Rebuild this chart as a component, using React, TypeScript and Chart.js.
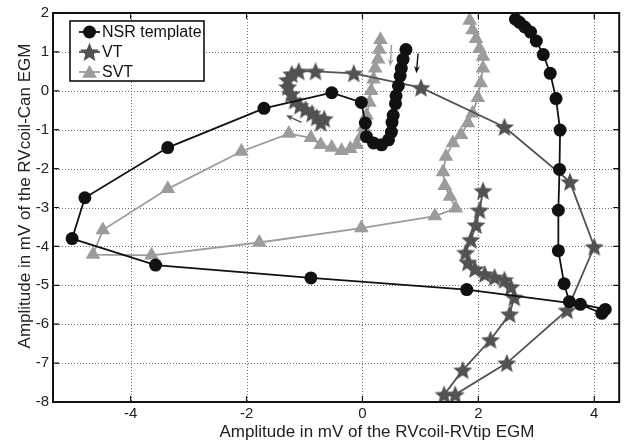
import React, { useEffect, useRef } from 'react';
import { Chart, registerables } from 'chart.js';

Chart.register(...registerables);

// ---------- data ----------
const xTicks = [-4, -2, 0, 2, 4];
const yTicks = [-8, -7, -6, -5, -4, -3, -2, -1, 0, 1, 2];

const seriesNames = ['NSR template', 'VT', 'SVT'];

const nsrX = [0.75, 0.7, 0.67, 0.65, 0.62, 0.58, 0.57, 0.53, 0.51, 0.5, 0.45, 0.33, 0.19, 0.07, 0.05, -0.02, -0.53, -1.7, -3.36, -4.79, -5.01, -3.57, -0.89, 1.8, 3.76, 4.13, 4.19, 3.57, 3.48, 3.38, 3.38, 3.4, 3.41, 3.34, 3.24, 3.12, 3.0, 2.9, 2.8, 2.71, 2.64];
const nsrY = [1.06, 0.81, 0.58, 0.38, 0.13, -0.13, -0.33, -0.63, -0.81, -1.06, -1.26, -1.39, -1.34, -1.18, -0.83, -0.3, -0.05, -0.45, -1.46, -2.75, -3.8, -4.48, -4.81, -5.11, -5.49, -5.72, -5.62, -5.42, -4.96, -4.11, -3.07, -2.02, -1.01, -0.2, 0.45, 0.93, 1.28, 1.51, 1.64, 1.76, 1.84];

const vtX = [-0.66, -0.72, -0.79, -0.87, -0.98, -1.08, -1.17, -1.23, -1.29, -1.29, -1.22, -1.1, -0.81, -0.15, 1.01, 2.45, 3.58, 4.0, 3.53, 2.49, 1.6, 1.41, 1.73, 2.21, 2.54, 2.62, 2.56, 2.45, 2.28, 2.11, 1.94, 1.82, 1.78, 1.87, 1.96, 2.02, 2.08];
const vtY = [-0.72, -0.82, -0.68, -0.58, -0.48, -0.38, -0.25, -0.08, 0.1, 0.28, 0.43, 0.5, 0.5, 0.45, 0.08, -0.93, -2.34, -4.01, -5.64, -7.0, -7.81, -7.81, -7.18, -6.4, -5.74, -5.31, -5.04, -4.86, -4.79, -4.71, -4.58, -4.41, -4.16, -3.83, -3.45, -3.07, -2.57];

const svtX = [0.31, 0.29, 0.27, 0.22, 0.19, 0.15, 0.12, 0.07, 0.02, -0.03, -0.1, -0.21, -0.36, -0.53, -0.72, -0.89, -1.27, -2.09, -3.36, -4.48, -4.65, -3.64, -1.78, -0.02, 1.25, 1.61, 1.51, 1.42, 1.39, 1.44, 1.56, 1.7, 1.82, 1.9, 1.99, 2.04, 2.08, 2.08, 2.02, 1.96, 1.9, 1.85];
const svtY = [1.31, 1.06, 0.81, 0.58, 0.3, 0.0, -0.3, -0.63, -0.93, -1.18, -1.39, -1.49, -1.54, -1.46, -1.39, -1.21, -1.1, -1.56, -2.52, -3.58, -4.21, -4.23, -3.9, -3.53, -3.22, -3.02, -2.72, -2.44, -2.09, -1.69, -1.34, -1.13, -0.83, -0.58, -0.18, 0.2, 0.58, 0.88, 1.08, 1.34, 1.56, 1.81];

// annotation arrows (data units): [x0, y0, x1(head), y1(head)]
const arrowNSR = [0.96, 0.96, 0.93, 0.45];
const arrowSVT = [0.5, 1.18, 0.48, 0.63];
const arrowVT = [-1.05, -0.81, -1.32, -0.63];

const xTitle = 'Amplitude in mV of the RVcoil-RVtip EGM';
const yTitle = 'Amplitude in mV of the RVcoil-Can EGM';

// ---------- styles ----------
const FONT = "'Liberation Sans', Arial, sans-serif";
const C_NSR = '#111111';
const C_VT = '#525252';
const C_SVT = '#9c9c9c';

function starPath(g: CanvasRenderingContext2D, cx: number, cy: number, ro: number, ri: number) {
  g.beginPath();
  for (let i = 0; i < 10; i++) {
    const r = i % 2 === 0 ? ro : ri;
    const a = -Math.PI / 2 + (i * Math.PI) / 5;
    const px = cx + r * Math.cos(a);
    const py = cy + r * Math.sin(a);
    if (i === 0) g.moveTo(px, py);
    else g.lineTo(px, py);
  }
  g.closePath();
}

function makeStar(r: number, color: string) {
  const c = document.createElement('canvas');
  const s = Math.ceil(r * 2 + 2);
  c.width = s;
  c.height = s;
  const g = c.getContext('2d')!;
  starPath(g, s / 2, s / 2 + 0.8, r, r * 0.45);
  g.fillStyle = color;
  g.fill();
  return c;
}

function triPath(g: CanvasRenderingContext2D, cx: number, cy: number, r: number) {
  g.beginPath();
  for (let i = 0; i < 3; i++) {
    const a = -Math.PI / 2 + (i * 2 * Math.PI) / 3;
    const px = cx + r * Math.cos(a);
    const py = cy + r * Math.sin(a);
    if (i === 0) g.moveTo(px, py);
    else g.lineTo(px, py);
  }
  g.closePath();
}

function drawArrow(ctx: CanvasRenderingContext2D, x0: number, y0: number, x1: number, y1: number, color: string) {
  const ang = Math.atan2(y1 - y0, x1 - x0);
  const hl = 8;
  ctx.save();
  ctx.strokeStyle = color;
  ctx.fillStyle = color;
  ctx.lineWidth = 1.4;
  ctx.beginPath();
  ctx.moveTo(x0, y0);
  ctx.lineTo(x1 - Math.cos(ang) * 3, y1 - Math.sin(ang) * 3);
  ctx.stroke();
  ctx.beginPath();
  ctx.moveTo(x1, y1);
  ctx.lineTo(x1 - hl * Math.cos(ang - 0.38), y1 - hl * Math.sin(ang - 0.38));
  ctx.lineTo(x1 - hl * 0.6 * Math.cos(ang), y1 - hl * 0.6 * Math.sin(ang));
  ctx.lineTo(x1 - hl * Math.cos(ang + 0.38), y1 - hl * Math.sin(ang + 0.38));
  ctx.closePath();
  ctx.fill();
  ctx.restore();
}

const decor = {
  id: 'decor',
  beforeDatasetsDraw(chart: any) {
    const { ctx, chartArea: a, scales } = chart;
    const sx = scales.x;
    const sy = scales.y;
    ctx.save();
    ctx.strokeStyle = '#6e6e6e';
    ctx.lineWidth = 1;
    ctx.setLineDash([1, 2]);
    for (const v of xTicks) {
      const px = Math.round(sx.getPixelForValue(v)) + 0.5;
      ctx.beginPath();
      ctx.moveTo(px, a.top);
      ctx.lineTo(px, a.bottom);
      ctx.stroke();
    }
    for (const v of yTicks) {
      const py = Math.round(sy.getPixelForValue(v)) + 0.5;
      ctx.beginPath();
      ctx.moveTo(a.left, py);
      ctx.lineTo(a.right, py);
      ctx.stroke();
    }
    ctx.restore();
  },
  afterDatasetsDraw(chart: any) {
    const { ctx, scales } = chart;
    const sx = scales.x;
    const sy = scales.y;
    const arr = (d: number[], c: string) =>
      drawArrow(ctx, sx.getPixelForValue(d[0]), sy.getPixelForValue(d[1]), sx.getPixelForValue(d[2]), sy.getPixelForValue(d[3]), c);
    arr(arrowNSR, C_NSR);
    arr(arrowSVT, C_SVT);
    arr(arrowVT, C_VT);
  },
  afterDraw(chart: any) {
    const { ctx, chartArea: a, scales } = chart;
    const sx = scales.x;
    const sy = scales.y;
    ctx.save();
    // frame
    ctx.strokeStyle = '#111';
    ctx.lineWidth = 2;
    ctx.strokeRect(a.left, a.top, a.right - a.left, a.bottom - a.top);
    // inner ticks
    ctx.lineWidth = 1.2;
    const tl = 6;
    for (const v of xTicks) {
      const px = sx.getPixelForValue(v);
      ctx.beginPath();
      ctx.moveTo(px, a.bottom);
      ctx.lineTo(px, a.bottom - tl);
      ctx.moveTo(px, a.top);
      ctx.lineTo(px, a.top + tl);
      ctx.stroke();
    }
    for (const v of yTicks) {
      const py = sy.getPixelForValue(v);
      ctx.beginPath();
      ctx.moveTo(a.left, py);
      ctx.lineTo(a.left + tl, py);
      ctx.moveTo(a.right, py);
      ctx.lineTo(a.right - tl, py);
      ctx.stroke();
    }
    // axis titles
    ctx.fillStyle = '#222';
    ctx.font = `17px ${FONT}`;
    ctx.textAlign = 'center';
    ctx.textBaseline = 'alphabetic';
    ctx.fillText(xTitle, 377, 437);
    ctx.save();
    ctx.translate(30, 196);
    ctx.rotate(-Math.PI / 2);
    ctx.fillText(yTitle, 0, 0);
    ctx.restore();

    // legend
    const lx = 70, ly = 21, lw = 134, lh = 60;
    ctx.fillStyle = '#fff';
    ctx.fillRect(lx, ly, lw, lh);
    ctx.strokeStyle = '#111';
    ctx.lineWidth = 1.6;
    ctx.strokeRect(lx, ly, lw, lh);
    const rows = [32, 52, 72];
    const colors = [C_NSR, C_VT, C_SVT];
    ctx.font = `16px ${FONT}`;
    ctx.textAlign = 'left';
    ctx.textBaseline = 'middle';
    rows.forEach((ry, i) => {
      ctx.strokeStyle = colors[i];
      ctx.lineWidth = 1.8;
      ctx.beginPath();
      ctx.moveTo(79, ry);
      ctx.lineTo(100, ry);
      ctx.stroke();
      ctx.fillStyle = colors[i];
      if (i === 0) {
        ctx.beginPath();
        ctx.arc(89.5, ry, 6.5, 0, Math.PI * 2);
        ctx.fill();
      } else if (i === 1) {
        starPath(ctx, 89.5, ry + 0.8, 10, 10 * 0.45);
        ctx.fill();
      } else {
        triPath(ctx, 89.5, ry + 1.5, 8.5);
        ctx.fill();
      }
      ctx.fillStyle = '#111';
      ctx.fillText(seriesNames[i], 102, ry + 1);
    });
    ctx.restore();
  },
};

const toPts = (xs: number[], ys: number[]) => xs.map((x, i) => ({ x, y: ys[i] }));

export default function App() {
  const ref = useRef<HTMLCanvasElement>(null);
  useEffect(() => {
    document.body.style.margin = '0';
    const star = makeStar(10, C_VT);
    const tickFont = { family: FONT, size: 15 };
    const chart = new Chart(ref.current!, {
      type: 'scatter',
      data: {
        datasets: [
          {
            label: seriesNames[0],
            data: toPts(nsrX, nsrY),
            showLine: true,
            borderColor: C_NSR,
            backgroundColor: C_NSR,
            borderWidth: 1.8,
            pointStyle: 'circle',
            pointRadius: 6.5,
            pointBorderWidth: 0,
            tension: 0,
          },
          {
            label: seriesNames[1],
            data: toPts(vtX, vtY),
            showLine: true,
            borderColor: C_VT,
            backgroundColor: C_VT,
            borderWidth: 1.8,
            pointStyle: star as any,
            pointRadius: 10,
            tension: 0,
          },
          {
            label: seriesNames[2],
            data: toPts(svtX, svtY),
            showLine: true,
            borderColor: C_SVT,
            backgroundColor: C_SVT,
            borderWidth: 1.8,
            pointStyle: 'triangle',
            pointRadius: 8.5,
            pointBorderWidth: 0,
            tension: 0,
          },
        ],
      },
      options: {
        animation: false,
        responsive: false,
        events: [],
        layout: { padding: { top: 5, right: 9, left: 0, bottom: 0 } },
        plugins: { legend: { display: false }, tooltip: { enabled: false } },
        scales: {
          x: {
            type: 'linear',
            min: -5.34,
            max: 4.43,
            afterBuildTicks: (s: any) => {
              s.ticks = xTicks.map((v) => ({ value: v }));
            },
            afterFit: (s: any) => {
              s.height = 42;
            },
            grid: { display: false, drawTicks: false },
            border: { display: false },
            ticks: { font: tickFont, color: '#222', padding: 3, maxRotation: 0, autoSkip: false },
          },
          y: {
            type: 'linear',
            min: -8,
            max: 2,
            afterBuildTicks: (s: any) => {
              s.ticks = yTicks.map((v) => ({ value: v }));
            },
            afterFit: (s: any) => {
              s.width = 53;
            },
            grid: { display: false, drawTicks: false },
            border: { display: false },
            ticks: { font: tickFont, color: '#222', padding: 4, autoSkip: false },
          },
        },
      },
      plugins: [decor],
    } as any);
    return () => chart.destroy();
  }, []);
  return (
    <div style={{ width: 631, height: 444 }}>
      <canvas ref={ref} width={631} height={444} style={{ display: 'block', width: 631, height: 444 }} />
    </div>
  );
}
